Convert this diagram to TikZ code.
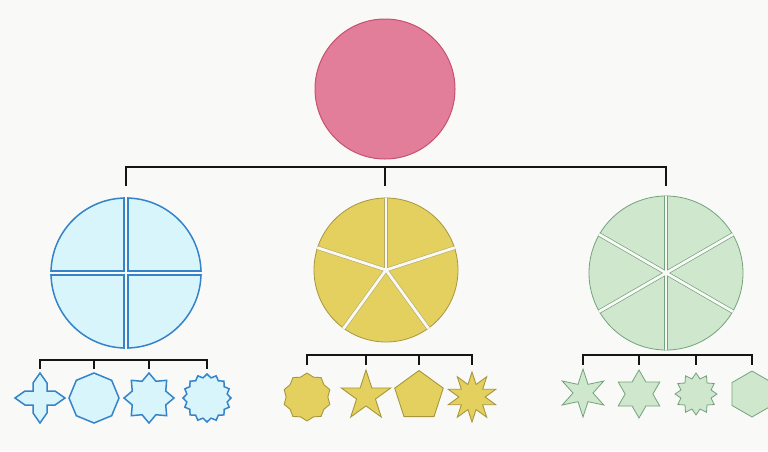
\documentclass[tikz,border=0pt]{standalone}
\usetikzlibrary{shapes.geometric}
\definecolor{bg}{HTML}{F9F9F7}
\definecolor{pinkF}{HTML}{E27E99}
\definecolor{pinkD}{HTML}{C8506E}
\definecolor{blueF}{HTML}{D9F5FC}
\definecolor{blueD}{HTML}{3583C8}
\definecolor{yelF}{HTML}{E4D05E}
\definecolor{yelD}{HTML}{A8963E}
\definecolor{grnF}{HTML}{CFE7CD}
\definecolor{grnD}{HTML}{73A37B}
\definecolor{brk}{HTML}{151515}
\tikzset{
  bigc/.style={circle, inner sep=0pt, outer sep=0pt},
  brkline/.style={draw=brk, line width=2.9pt, line join=miter, line cap=butt},
  bshape/.style={fill=blueF, draw=blueD, line width=1.5pt, inner sep=0pt, outer sep=0pt},
  yshape/.style={fill=yelF, draw=yelD, line width=0.9pt, inner sep=0pt, outer sep=0pt},
  gshape/.style={fill=grnF, draw=grnD, line width=0.8pt, inner sep=0pt, outer sep=0pt},
}
\begin{document}
\begin{tikzpicture}[x=1pt,y=-1pt]
\fill[bg] (0,0) rectangle (768,451);
\useasboundingbox (0,0) rectangle (768,451);
\clip (0,0) rectangle (768,451);

% big circles
\node[bigc, fill=pinkF, draw=pinkD, line width=1pt, minimum size=140pt] (T) at (385,89) {};
\node[bigc, fill=blueF, draw=blueD, line width=1.5pt, minimum size=150pt] (B) at (126,273) {};
\node[bigc, fill=yelF, draw=yelD, line width=0.8pt, minimum size=144pt] (Y) at (386,270) {};
\node[bigc, fill=grnF, draw=grnD, line width=0.8pt, minimum size=154pt] (G) at (666,273) {};

% cuts in blue circle
\begin{scope}
\clip (B.center) circle[radius=75.8pt];
\foreach \a in {0,90,180,270} \draw[blueD, line width=5.2pt, line cap=round] (B.center) -- ++(\a:85);
\foreach \a in {0,90,180,270} \draw[bg, line width=2.2pt, line cap=round] (B.center) -- ++(\a:85);
\end{scope}
% cuts in yellow circle
\begin{scope}
\clip (Y.center) circle[radius=72.4pt];
\foreach \a in {-90,-18,54,126,198} \draw[yelD!80, line width=4.0pt, line cap=round] (Y.center) -- ++(\a:85);
\foreach \a in {-90,-18,54,126,198} \draw[bg, line width=2.8pt, line cap=round] (Y.center) -- ++(\a:85);
\end{scope}
% cuts in green circle
\begin{scope}
\clip (G.center) circle[radius=77.4pt];
\foreach \a in {30,90,150,210,270,330} \draw[grnD, line width=4.2pt, line cap=round] (G.center) -- ++(\a:85);
\foreach \a in {30,90,150,210,270,330} \draw[bg, line width=2.8pt, line cap=round] (G.center) -- ++(\a:85);
\end{scope}

% main bracket
\coordinate (h1) at (0,167);
\coordinate (h1e) at (0,186);
\draw[brkline] (B |- h1e) -- (B |- h1) -- (G |- h1) -- (G |- h1e);
\draw[brkline] (T |- h1) -- (T |- h1e);

% blue sub shapes
\node[circle, minimum size=50pt, inner sep=0pt] (b1) at (40,398) {};
\draw[bshape, line join=miter] ([shift={(7,7)}]b1.center) -- ++(8,0) -- ++(10,-7) -- ++(-10,-7) -- ++(-8,0)
  -- ++(0,-8) -- ++(-7,-10) -- ++(-7,10) -- ++(0,8) -- ++(-8,0) -- ++(-10,7) -- ++(10,7) -- ++(8,0)
  -- ++(0,8) -- ++(7,10) -- ++(7,-10) -- cycle;
\node[bshape, regular polygon, regular polygon sides=8, shape border rotate=22.5, minimum size=50pt] (b2) at (94,398) {};
\node[bshape, star, star points=8, star point ratio=1.38, minimum size=50pt] (b3) at (149,398) {};
\node[bshape, star, star points=16, star point ratio=1.17, minimum size=48pt] (b4) at (207,398) {};
\coordinate (h2) at (0,360);
\coordinate (h2e) at (0,369);
\draw[brkline] (b1 |- h2e) -- (b1 |- h2) -- (b4 |- h2) -- (b4 |- h2e);
\draw[brkline] (b2 |- h2) -- (b2 |- h2e);
\draw[brkline] (b3 |- h2) -- (b3 |- h2e);

% yellow sub shapes
\node[yshape, star, star points=10, star point ratio=1.15, minimum size=48pt, line join=round] (y1) at (307,397) {};
\node[yshape, star, star points=5, star point ratio=2.618, minimum size=52pt] (y2) at (366,396) {};
\node[yshape, regular polygon, regular polygon sides=5, minimum size=51pt] (y3) at (419,396) {};
\node[yshape, star, star points=10, star point ratio=1.9, minimum size=50pt] (y4) at (472,397) {};
\coordinate (h3) at (0,355);
\coordinate (h3e) at (0,365);
\draw[brkline] (y1 |- h3e) -- (y1 |- h3) -- (y4 |- h3) -- (y4 |- h3e);
\draw[brkline] (y2 |- h3) -- (y2 |- h3e);
\draw[brkline] (y3 |- h3) -- (y3 |- h3e);

% green sub shapes
\node[gshape, star, star points=6, star point ratio=2.4, minimum size=48pt] (g1) at (583,393) {};
\node[gshape, star, star points=6, star point ratio=1.732, minimum size=48pt] (g2) at (639,394) {};
\node[gshape, star, star points=12, star point ratio=1.35, minimum size=42pt] (g3) at (696,394) {};
\node[gshape, regular polygon, regular polygon sides=6, shape border rotate=30, minimum size=46pt] (g4) at (752,394) {};
\draw[brkline] (g1 |- h3e) -- (g1 |- h3) -- (g4 |- h3) -- (g4 |- h3e);
\draw[brkline] (g2 |- h3) -- (g2 |- h3e);
\draw[brkline] (g3 |- h3) -- (g3 |- h3e);
\end{tikzpicture}
\end{document}
